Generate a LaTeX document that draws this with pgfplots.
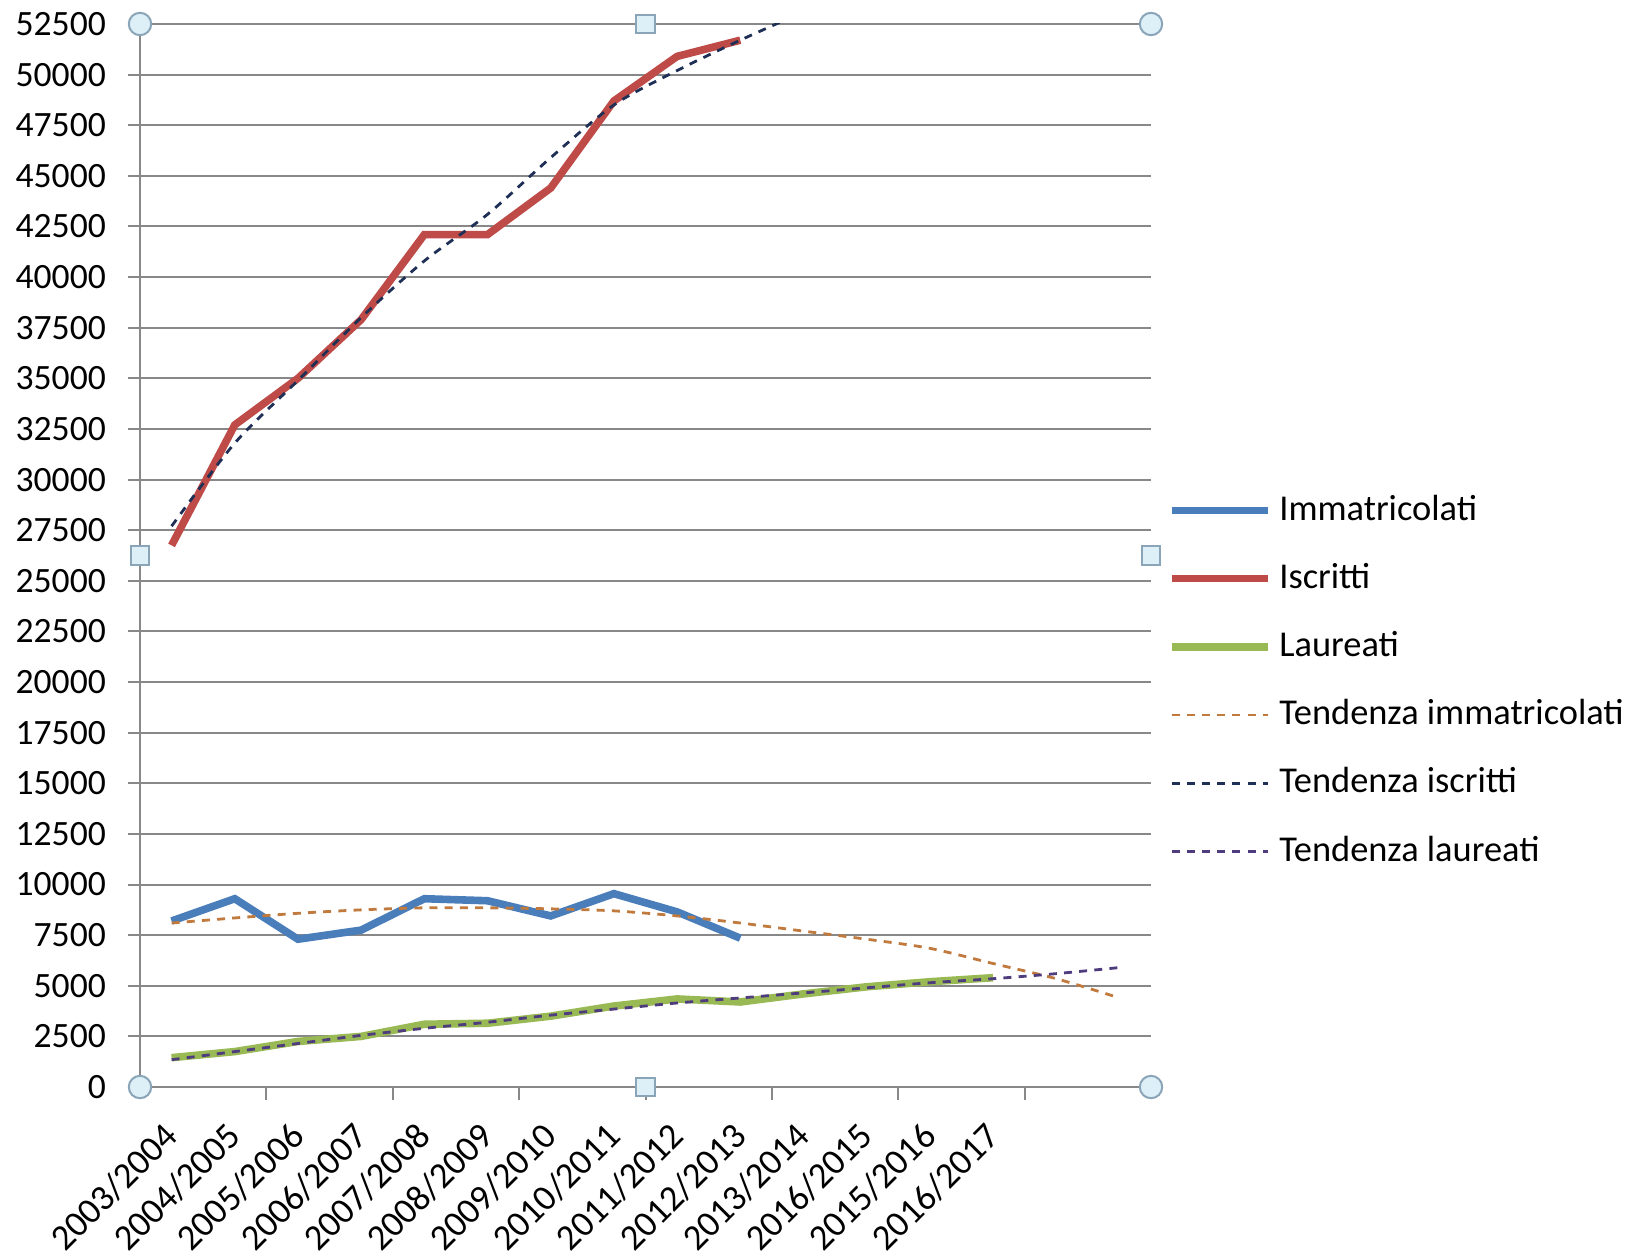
\documentclass[border=0pt]{standalone}
\usepackage{pgfplots}
\pgfplotsset{compat=1.18}
\usetikzlibrary{calc}
\usepackage{fontspec}
\setmainfont{Carlito}

\definecolor{immcol}{HTML}{4A7EBB}
\definecolor{iscol}{HTML}{BE4B48}
\definecolor{laucol}{HTML}{98B954}
\definecolor{trimm}{HTML}{C07A3E}
\definecolor{trisc}{HTML}{1F2F55}
\definecolor{trlau}{HTML}{4E3C7E}
\definecolor{gridgray}{HTML}{888888}
\definecolor{handlefill}{HTML}{DDF0F8}
\definecolor{handledraw}{HTML}{8AA4B8}

\begin{document}
\begin{tikzpicture}
\begin{axis}[%
name=ax,
width=252.75pt,
height=265.75pt,
scale only axis,
xmin=-0.5, xmax=15.5,
ymin=0, ymax=52500,
font=\fontsize{8.9}{10.7}\selectfont,
axis line style={draw=gridgray, line width=0.5pt},
axis x line*=bottom,
axis y line*=left,
tick align=outside,
major tick length=0pt,
tick style={draw=gridgray, line width=0.5pt},
xtick={0,1,...,13},
xticklabels={2003/2004,2004/2005,2005/2006,2006/2007,2007/2008,2008/2009,2009/2010,2010/2011,2011/2012,2012/2013,2013/2014,2016/2015,2015/2016,2016/2017},
xticklabel style={xshift=0.8pt, yshift=-9.9pt, rotate=45, anchor=east, inner sep=1pt,
  font=\fontsize{9.1}{10.9}\selectfont},
extra x ticks={1.5,3.5,...,13.5},
extra x tick labels={},
extra x tick style={major tick length=3.3pt},
ytick={0,2500,...,52500},
scaled y ticks=false,
/pgf/number format/fixed,
/pgf/number format/precision=0,
/pgf/number format/set thousands separator={},
/pgf/number format/assume math mode=true,
yticklabel style={xshift=-5pt},
ymajorgrids,
grid style={draw=gridgray, line width=0.5pt},
legend style={at={(1.0158,0.382)}, anchor=west, draw=none, fill=none, inner sep=0pt,
  row sep=5.25pt, cells={anchor=west}, font=\fontsize{9.1}{10.9}\selectfont},
legend image code/.code={\draw[#1] (0pt,0pt) -- (24pt,0pt);},
]
\addplot[color=immcol, line width=1.9pt] coordinates {
(0,8200) (1,9300) (2,7300) (3,7750) (4,9300) (5,9200) (6,8450) (7,9550) (8,8650) (9,7350)
};
\addlegendentry{Immatricolati}
\addplot[color=iscol, line width=1.9pt] coordinates {
(0,26750) (1,32700) (2,35000) (3,37900) (4,42100) (5,42100) (6,44400) (7,48700) (8,50900) (9,51700)
};
\addlegendentry{Iscritti}
\addplot[color=laucol, line width=1.9pt] coordinates {
(0,1450) (1,1750) (2,2250) (3,2500) (4,3100) (5,3150) (6,3500) (7,4000) (8,4350) (9,4200)
(10,4600) (11,4950) (12,5200) (13,5400)
};
\addlegendentry{Laureati}
\addplot[color=trimm, line width=0.7pt, dash pattern=on 2pt off 1.8pt, smooth] coordinates {
(0,8100) (1,8350) (2,8580) (3,8750) (4,8850) (5,8850) (6,8800) (7,8700) (8,8450) (9,8100)
(10,7700) (11,7300) (12,6850) (13,6100) (14,5350) (15,4400)
};
\addlegendentry{Tendenza immatricolati}
\addplot[color=trisc, line width=0.7pt, dash pattern=on 2pt off 1.8pt, smooth] coordinates {
(0,27700) (1,31800) (2,34900) (3,38000) (4,40800) (5,43100) (6,45900) (7,48500) (8,50200) (9,51700) (10,53100)
};
\addlegendentry{Tendenza iscritti}
\addplot[color=trlau, line width=0.7pt, dash pattern=on 2pt off 1.8pt, smooth] coordinates {
(0,1350) (1,1750) (2,2150) (3,2550) (4,2900) (5,3200) (6,3550) (7,3850) (8,4150) (9,4400)
(10,4650) (11,4900) (12,5150) (13,5350) (14,5600) (15,5900)
};
\addlegendentry{Tendenza laureati}
\end{axis}

% y tick marks (short, outside)
\foreach \k in {0,...,21}
  \draw[gridgray, line width=0.5pt] ($(ax.south west)!{\k/21}!(ax.north west)$) -- ++(-3pt,0);

% selection handles of the chart area
\foreach \a in {south west, north west, south east, north east}
  \draw[handledraw, fill=handlefill, line width=0.5pt] (ax.\a) circle (2.8pt);
\foreach \a in {south, north, west, east}
  \draw[handledraw, fill=handlefill, line width=0.5pt] ([shift={(-2.3pt,-2.3pt)}]ax.\a) rectangle ++(4.6pt,4.6pt);

\pgfresetboundingbox
\path[use as bounding box] (-35pt,-42.25pt) rectangle (373.5pt,271.75pt);
\end{tikzpicture}
\end{document}
